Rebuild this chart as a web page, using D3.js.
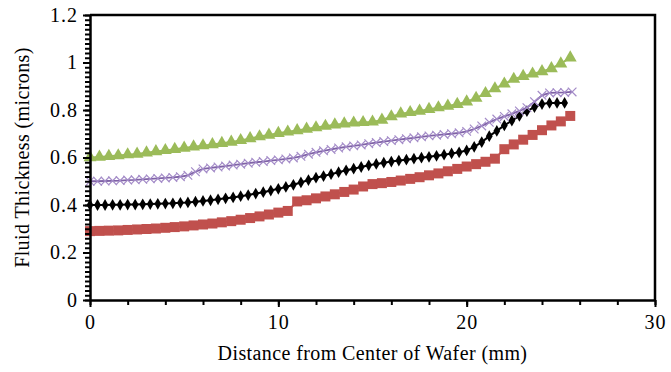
<!DOCTYPE html>
<html>
<head>
<meta charset="utf-8">
<script src="https://cdn.jsdelivr.net/npm/d3@7"></script>
<style>
  body { margin: 0; background: #fff; }
</style>
</head>
<body>
<div id="chart"></div>
<script>
// x positions (mm) for the two 0.5 mm series
var xHalf = [0, 0.5, 1, 1.5, 2, 2.5, 3, 3.5, 4, 4.5, 5, 5.5, 6, 6.5, 7, 7.5, 8, 8.5, 9, 9.5,
  10, 10.5, 11, 11.5, 12, 12.5, 13, 13.5, 14, 14.5, 15, 15.5, 16, 16.5, 17, 17.5, 18, 18.5, 19, 19.5,
  20, 20.5, 21, 21.5, 22, 22.5, 23, 23.5, 24, 24.5, 25, 25.5];

// x positions (mm) for the two 0.4 mm series
var xFine = [0, 0.4, 0.8, 1.2, 1.6, 2, 2.4, 2.8, 3.2, 3.6, 4, 4.4, 4.8, 5.2, 5.6, 6, 6.4, 6.8, 7.2, 7.6,
  8, 8.4, 8.8, 9.2, 9.6, 10, 10.4, 10.8, 11.2, 11.6, 12, 12.4, 12.8, 13.2, 13.6, 14, 14.4, 14.8, 15.2, 15.6,
  16, 16.4, 16.8, 17.2, 17.6, 18, 18.4, 18.8, 19.2, 19.6, 20, 20.4, 20.8, 21.2, 21.6, 22, 22.4, 22.8, 23.2, 23.6,
  24, 24.4, 24.8, 25.2, 25.6];

var greenY = [0.600, 0.602, 0.605, 0.608, 0.612, 0.615, 0.620, 0.625, 0.630, 0.635, 0.640, 0.645, 0.650, 0.655,
  0.660, 0.665, 0.672, 0.680, 0.688, 0.695, 0.702, 0.708, 0.714, 0.720, 0.726, 0.732, 0.738, 0.742, 0.746, 0.748,
  0.750, 0.758, 0.772, 0.784, 0.790, 0.796, 0.803, 0.810, 0.817, 0.824, 0.835, 0.850, 0.870, 0.890, 0.910, 0.930,
  0.942, 0.952, 0.962, 0.975, 0.995, 1.020];

var redY = [0.290, 0.291, 0.292, 0.293, 0.295, 0.297, 0.299, 0.301, 0.304, 0.307, 0.310, 0.314, 0.318, 0.322,
  0.327, 0.332, 0.338, 0.345, 0.352, 0.360, 0.368, 0.375, 0.415, 0.420, 0.428, 0.436, 0.445, 0.455, 0.465, 0.478,
  0.488, 0.492, 0.497, 0.503, 0.510, 0.517, 0.525, 0.533, 0.542, 0.552, 0.562, 0.572, 0.582, 0.595, 0.635, 0.655,
  0.675, 0.695, 0.715, 0.735, 0.752, 0.775];

var blackY = [0.400, 0.400, 0.400, 0.401, 0.401, 0.402, 0.402, 0.403, 0.404, 0.405, 0.406, 0.407, 0.409, 0.411,
  0.414, 0.417, 0.420, 0.424, 0.428, 0.432, 0.437, 0.442, 0.448, 0.454, 0.461, 0.468, 0.476, 0.485, 0.495, 0.505,
  0.515, 0.522, 0.530, 0.538, 0.546, 0.553, 0.560, 0.567, 0.573, 0.578, 0.583, 0.587, 0.591, 0.595, 0.599, 0.603,
  0.607, 0.612, 0.617, 0.622, 0.630, 0.645, 0.665, 0.690, 0.712, 0.735, 0.755, 0.775, 0.795, 0.812, 0.825, 0.830,
  0.830, 0.830];

var purpleY = [0.500, 0.500, 0.501, 0.502, 0.503, 0.505, 0.506, 0.508, 0.510, 0.512, 0.514, 0.516, 0.519, 0.525,
  0.540, 0.552, 0.556, 0.560, 0.564, 0.568, 0.572, 0.576, 0.580, 0.583, 0.587, 0.590, 0.594, 0.598, 0.605, 0.614,
  0.622, 0.628, 0.634, 0.640, 0.645, 0.649, 0.653, 0.658, 0.663, 0.667, 0.671, 0.675, 0.679, 0.683, 0.687, 0.691,
  0.694, 0.697, 0.700, 0.704, 0.710, 0.720, 0.733, 0.748, 0.762, 0.773, 0.784, 0.796, 0.810, 0.835, 0.862, 0.872,
  0.873, 0.874, 0.876];

var xTicks = [0, 10, 20, 30];
var yTicks = [0, 0.2, 0.4, 0.6, 0.8, 1, 1.2];

var width = 671, height = 372;
var margin = { left: 90, top: 15, right: 16, bottom: 72 };
var serif = "Liberation Serif, DejaVu Serif";

var svg = d3.select("#chart").append("svg")
  .attr("width", width)
  .attr("height", height)
  .style("font-family", serif);

var x = d3.scaleLinear().domain([0, 30]).range([margin.left, width - margin.right]);
var y = d3.scaleLinear().domain([0, 1.2]).range([height - margin.bottom, margin.top]);

function zip(xs, ys) {
  return ys.map(function (v, i) { return [xs[i], v]; });
}

var series = [
  { pts: zip(xFine, blackY), line: "#000", lw: 2, sym: d3.symbolDiamond, size: 40, fill: "#000", stroke: "none" },
  { pts: zip(xHalf, redY), line: "#C0504D", lw: 2, sym: d3.symbolSquare, size: 100, fill: "#C0504D", stroke: "none" },
  { pts: zip(xFine, purpleY), line: "#7F62A6", lw: 1.8, sym: d3.symbolTimes, size: 50, fill: "none", stroke: "#A48CC8" },
  { pts: zip(xHalf, greenY), line: "#9BBB59", lw: 2, sym: d3.symbolTriangle, size: 72, fill: "#9BBB59", stroke: "none" }
];

var line = d3.line().x(function (d) { return x(d[0]); }).y(function (d) { return y(d[1]); });

series.forEach(function (s) {
  var g = svg.append("g");
  g.append("path")
    .attr("d", line(s.pts))
    .attr("fill", "none")
    .attr("stroke", s.line)
    .attr("stroke-width", s.lw);
  g.selectAll("path.m")
    .data(s.pts)
    .enter()
    .append("path")
    .attr("class", "m")
    .attr("transform", function (d) { return "translate(" + x(d[0]) + "," + y(d[1]) + ")"; })
    .attr("d", d3.symbol().type(s.sym).size(s.size))
    .attr("fill", s.fill)
    .attr("stroke", s.stroke)
    .attr("stroke-width", 1.2);
});

// minor ticks
var yMinor = d3.range(0, 61).map(function (i) { return i * 0.02; });
svg.append("g")
  .attr("transform", "translate(" + margin.left + ",0)")
  .call(d3.axisLeft(y).tickValues(yMinor).tickSize(5).tickFormat(""))
  .call(function (g) { g.select(".domain").remove(); g.selectAll("line").attr("stroke-width", 2); });

var xMinor = d3.range(0, 16).map(function (i) { return i * 2; });
svg.append("g")
  .attr("transform", "translate(0," + y(0) + ")")
  .call(d3.axisBottom(x).tickValues(xMinor).tickSize(5).tickFormat(""))
  .call(function (g) { g.select(".domain").remove(); g.selectAll("line").attr("stroke-width", 2); });

// major axes
svg.append("g")
  .attr("transform", "translate(" + margin.left + ",0)")
  .call(d3.axisLeft(y).tickValues(yTicks).tickSize(7).tickPadding(5).tickSizeOuter(0)
    .tickFormat(function (d) { return d3.format("")(+d.toFixed(1)); }))
  .call(function (g) {
    g.attr("font-family", null).attr("font-size", 20);
    g.select(".domain").attr("stroke-width", 2.5);
    g.selectAll("line").attr("stroke-width", 2);
    g.selectAll("text").attr("letter-spacing", 1);
  });

svg.append("g")
  .attr("transform", "translate(0," + y(0) + ")")
  .call(d3.axisBottom(x).tickValues(xTicks).tickSize(7).tickPadding(8).tickSizeOuter(0))
  .call(function (g) {
    g.attr("font-family", null).attr("font-size", 20);
    g.select(".domain").attr("stroke-width", 2.5);
    g.selectAll("line").attr("stroke-width", 2);
    g.selectAll("text").attr("letter-spacing", 1);
  });

// top and right border
svg.append("path")
  .attr("d", "M" + x(0) + "," + y(1.2) + "H" + x(30) + "V" + y(0))
  .attr("fill", "none")
  .attr("stroke", "#000")
  .attr("stroke-width", 2.5);

svg.append("text")
  .attr("x", (x(0) + x(30)) / 2)
  .attr("y", 360)
  .attr("text-anchor", "middle")
  .attr("font-size", 20)
  .attr("letter-spacing", 0.4)
  .text("Distance from Center of Wafer (mm)");

svg.append("text")
  .attr("transform", "translate(29," + ((y(0) + y(1.2)) / 2) + ") rotate(-90)")
  .attr("text-anchor", "middle")
  .attr("font-size", 20)
  .attr("letter-spacing", 0.4)
  .text("Fluid Thickness (microns)");
</script>
</body>
</html>
